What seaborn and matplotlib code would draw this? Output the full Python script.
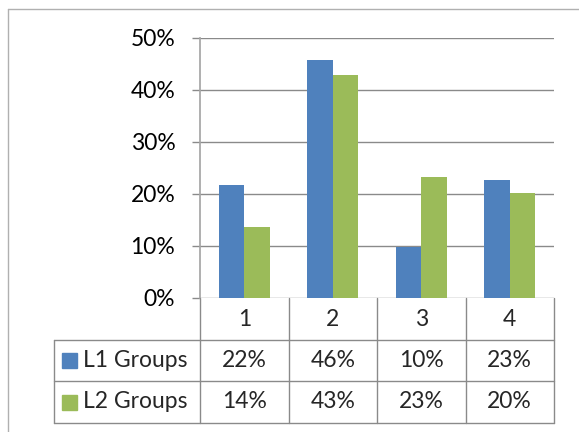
import pandas as pd
import matplotlib.pyplot as plt
import seaborn as sns
from matplotlib.lines import Line2D
from matplotlib.patches import Rectangle
from matplotlib.ticker import FuncFormatter

sns.set_theme(style="white")
plt.rcParams['font.family'] = ['Lato', 'DejaVu Sans']

categories = ['1', '2', '3', '4']
series = ['L1 Groups', 'L2 Groups']
l1_values = [21.8, 45.8, 9.8, 22.6]
l2_values = [13.6, 42.9, 23.2, 20.2]
colors = ['#4F81BD', '#9BBB59']

df = pd.DataFrame({
    'Category': categories * 2,
    'Series': [series[0]] * 4 + [series[1]] * 4,
    'Value': l1_values + l2_values,
})

W, H = 579, 432
grid_col = '#8a8a8a'
fs = 16.5

fig = plt.figure(figsize=(W / 100, H / 100), dpi=100)
ax = fig.add_axes([200 / W, 1 - 298 / H, 354 / W, 260 / H])

sns.barplot(data=df, x='Category', y='Value', hue='Series', palette=colors,
            width=0.575, linewidth=0, saturation=1, legend=False, ax=ax)

ax.set_xlim(-0.5, 3.5)
ax.set_ylim(0, 50)
ax.set_yticks(range(0, 51, 10))
ax.yaxis.set_major_formatter(FuncFormatter(lambda v, p: f"{v:.0f}%"))
ax.set_xticks([])
ax.set_xlabel('')
ax.set_ylabel('')
ax.grid(axis='y', color=grid_col, linewidth=1)
ax.set_axisbelow(True)
for s in ['top', 'right', 'bottom']:
    ax.spines[s].set_visible(False)
ax.spines['left'].set_color('#a6a6a6')
ax.tick_params(axis='y', direction='out', length=5.8, width=1, color=grid_col,
               left=True, labelsize=fs, pad=12, labelcolor='black')

# data table under the plot
fig.canvas.draw()
to_px = ax.transData
edges = [to_px.transform((x, 0))[0] for x in [-0.5, 0.5, 1.5, 2.5, 3.5]]
table_left = 54
rows_y = [298, 340, 381, 423]


def fig_line(x0, y0, x1, y1, color=grid_col, lw=1):
    fig.add_artist(Line2D([x0 / W, x1 / W], [1 - y0 / H, 1 - y1 / H],
                          color=color, linewidth=lw))


for e in edges:
    fig_line(e, rows_y[0], e, rows_y[3])
fig_line(table_left, rows_y[1], edges[-1], rows_y[1])
fig_line(table_left, rows_y[2], edges[-1], rows_y[2])
fig_line(table_left, rows_y[3], edges[-1], rows_y[3])
fig_line(table_left, rows_y[1], table_left, rows_y[3])

for i, cat in enumerate(categories):
    cx = (edges[i] + edges[i + 1]) / 2
    fig.text(cx / W, 1 - (rows_y[0] + rows_y[1]) / 2 / H, cat,
             ha='center', va='center', fontsize=fs)

for r, (name, vals) in enumerate([(series[0], l1_values), (series[1], l2_values)]):
    cy = (rows_y[r + 1] + rows_y[r + 2]) / 2
    fig.add_artist(Rectangle((62 / W, 1 - (cy + 7.5) / H), 15 / W, 15 / H,
                             color=colors[r], transform=fig.transFigure))
    fig.text(83 / W, 1 - cy / H, name, ha='left', va='center', fontsize=fs)
    for i, v in enumerate(vals):
        cx = (edges[i] + edges[i + 1]) / 2
        fig.text(cx / W, 1 - cy / H, f"{round(v)}%", ha='center', va='center',
                 fontsize=fs)

# outer chart border (cut off at right and bottom)
fig_line(8, 9, 8, H + 5, color='#b0b0b0')
fig_line(8, 9, W + 5, 9, color='#b0b0b0')

fig.savefig('out.png', dpi=100)
plt.close()
